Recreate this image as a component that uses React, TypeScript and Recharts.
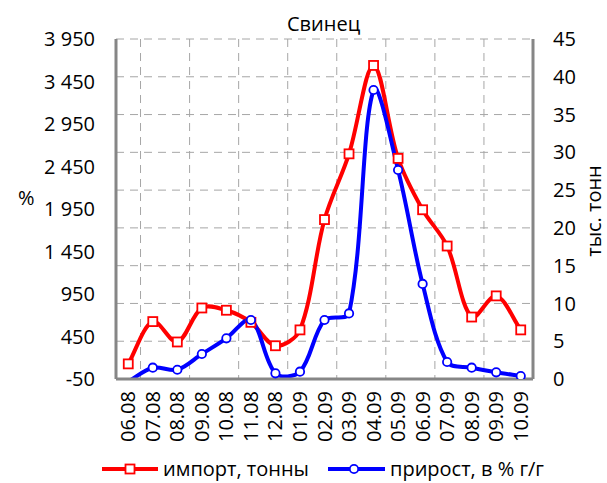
import React from "react";
import { LineChart, Line, XAxis, YAxis, CartesianGrid, Legend } from "recharts";

// months on the x axis
const months = [
  "06.08", "07.08", "08.08", "09.08", "10.08", "11.08", "12.08",
  "01.09", "02.09", "03.09", "04.09", "05.09", "06.09", "07.09",
  "08.09", "09.09", "10.09",
];

// импорт (red, right axis)
const importTons = [2.0, 7.6, 4.9, 9.4, 9.1, 7.5, 4.4, 6.5, 21.1, 29.8, 41.5, 29.2, 22.4, 17.6, 8.2, 11.0, 6.5];

// прирост, % г/г (blue, left axis)
const growthPct = [-79, 83, 59, 244, 429, 644, 17, 36, 644, 721, 3350, 2409, 1068, 150, 83, 29, -15];

const leftTicks = [-50, 450, 950, 1450, 1950, 2450, 2950, 3450, 3950];
const rightTicks = [0, 5, 10, 15, 20, 25, 30, 35, 40, 45];

const data = months.map((m, i) => ({ month: m, imp: importTons[i], growth: growthPct[i] }));

const FONT = "'Open Sans', sans-serif";
const GRID = "#a6a6a6";
const AXIS = "#868686";
const RED = "#ff0000";
const BLUE = "#0000ff";

const fmtLeft = (v: number) => {
  const s = String(Math.abs(v));
  const body = s.length > 3 ? s.slice(0, -3) + " " + s.slice(-3) : s;
  return (v < 0 ? "-" : "") + body;
};

// excel-style smoothing: tangents weighted by segment length so short segments don't overshoot
function excelCurve(context: any) {
  let pts: number[][] = [];
  const dist = (a: number[], b: number[]) => Math.hypot(b[0] - a[0], b[1] - a[1]) || 1e-6;
  return {
    areaStart() {},
    areaEnd() {},
    lineStart() {
      pts = [];
    },
    lineEnd() {
      const n = pts.length;
      if (!n) return;
      context.moveTo(pts[0][0], pts[0][1]);
      for (let i = 0; i < n - 1; i++) {
        const p0 = pts[Math.max(0, i - 1)];
        const p1 = pts[i];
        const p2 = pts[i + 1];
        const p3 = pts[Math.min(n - 1, i + 2)];
        const d01 = i > 0 ? dist(p0, p1) : 0;
        const d12 = dist(p1, p2);
        const d23 = i + 2 < n ? dist(p2, p3) : 0;
        const f1 = d12 / (d01 + d12) / 3;
        const f2 = d12 / (d12 + d23) / 3;
        context.bezierCurveTo(
          p1[0] + (p2[0] - p0[0]) * f1,
          p1[1] + (p2[1] - p0[1]) * f1,
          p2[0] - (p3[0] - p1[0]) * f2,
          p2[1] - (p3[1] - p1[1]) * f2,
          p2[0],
          p2[1]
        );
      }
    },
    point(x: number, y: number) {
      pts.push([+x, +y]);
    },
  };
}

const RedDot = (p: any) => (
  <rect key={`r-${p.index}`} x={p.cx - 4.5} y={p.cy - 4.5} width={9} height={9} fill="#fff" stroke={RED} strokeWidth={1.8} />
);

const BlueDot = (p: any) =>
  p.value < leftTicks[0] ? (
    <g key={`b-${p.index}`} />
  ) : (
    <circle key={`b-${p.index}`} cx={p.cx} cy={p.cy} r={4.2} fill="#fff" stroke={BLUE} strokeWidth={1.8} />
  );

const XTick = ({ x, y, payload }: any) => (
  <g transform={`translate(${x},${y})`}>
    <text transform="rotate(-90)" textAnchor="end" dy="0.35em" fontSize={20} fontFamily={FONT} fill="#000">
      {payload.value}
    </text>
  </g>
);

const LegendBox = () => (
  <svg width={607} height={28} style={{ display: "block" }}>
    <line x1={102} y1={14} x2={158} y2={14} stroke={RED} strokeWidth={4} />
    <rect x={125.5} y={9.5} width={9} height={9} fill="#fff" stroke={RED} strokeWidth={1.8} />
    <text x={163} y={14} dy="0.35em" fontSize={20} fontFamily={FONT} fill="#000">
      импорт, тонны
    </text>
    <line x1={328} y1={14} x2={385} y2={14} stroke={BLUE} strokeWidth={4} />
    <circle cx={354} cy={14} r={4.2} fill="#fff" stroke={BLUE} strokeWidth={1.8} />
    <text x={390} y={14} dy="0.35em" fontSize={20} fontFamily={FONT} fill="#000">
      прирост, в % г/г
    </text>
  </svg>
);

const tickStyle = { fontSize: 20, fontFamily: FONT, fill: "#000" };

export default function App() {
  return (
    <div style={{ position: "absolute", left: 0, top: 0, width: 607, height: 483, background: "#fff" }}>
      <div
        style={{
          position: "absolute",
          left: 287,
          top: 10,
          lineHeight: "27px",
          fontSize: 20,
          fontFamily: FONT,
          color: "#000",
        }}
      >
        Свинец
      </div>
      <LineChart width={607} height={483} data={data} margin={{ top: 39, right: 0, bottom: 0, left: 0 }}>
        <CartesianGrid
          yAxisId="right"
          stroke={GRID}
          strokeDasharray="8 6"
          verticalCoordinatesGenerator={({ offset }: any) => {
            const bw = offset.width / months.length;
            const xs: number[] = [];
            for (let k = 1; k < months.length; k += 2) xs.push(offset.left + k * bw);
            return xs;
          }}
        />
        <XAxis
          dataKey="month"
          scale="band"
          interval={0}
          height={76}
          tickLine={false}
          tickSize={0}
          tickMargin={12}
          tick={<XTick />}
          axisLine={{ stroke: AXIS, strokeWidth: 3 }}
        />
        <YAxis
          yAxisId="left"
          orientation="left"
          width={116}
          domain={[-50, 3950]}
          ticks={leftTicks}
          allowDataOverflow
          tickFormatter={fmtLeft}
          tickLine={false}
          tickSize={0}
          tickMargin={21}
          tick={tickStyle}
          axisLine={{ stroke: AXIS, strokeWidth: 3 }}
          label={{
            content: () => (
              <text x={18} y={198} dy="0.35em" fontSize={20} fontFamily={FONT} fill="#000">
                %
              </text>
            ),
          }}
        />
        <YAxis
          yAxisId="right"
          orientation="right"
          width={74}
          domain={[0, 45]}
          ticks={rightTicks}
          tickLine={false}
          tickSize={0}
          tickMargin={20}
          tick={tickStyle}
          axisLine={{ stroke: AXIS, strokeWidth: 3 }}
          label={{
            content: () => (
              <text
                transform="translate(594,211) rotate(-90)"
                textAnchor="middle"
                dy="0.35em"
                fontSize={20}
                fontFamily={FONT}
                fill="#000"
              >
                тыс. тонн
              </text>
            ),
          }}
        />
        <Legend
          verticalAlign="bottom"
          content={<LegendBox />}
          wrapperStyle={{ left: 0, bottom: 0, width: 607, height: 28 }}
        />
        <Line
          yAxisId="right"
          dataKey="imp"
          type={excelCurve as any}
          stroke={RED}
          strokeWidth={4}
          dot={RedDot}
          activeDot={false}
          isAnimationActive={false}
        />
        <Line
          yAxisId="left"
          dataKey="growth"
          type={excelCurve as any}
          stroke={BLUE}
          strokeWidth={4}
          dot={BlueDot}
          activeDot={false}
          isAnimationActive={false}
        />
      </LineChart>
    </div>
  );
}
